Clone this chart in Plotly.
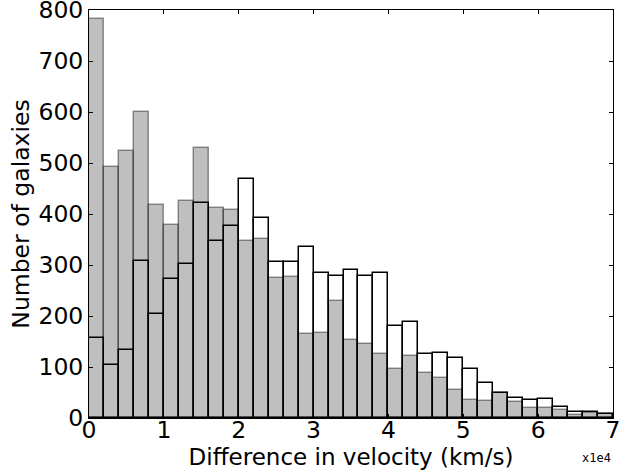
import numpy as np
import plotly.graph_objects as go

# Histogram bins (km/s), width 2000 km/s from 0 to 70000
bin_edges_kms = np.arange(0, 70001, 2000)
bin_centers = (bin_edges_kms[:-1] + bin_edges_kms[1:]) / 2 / 1e4  # in units of 1e4 km/s
bin_width = 2000 / 1e4

gray_counts = [783, 492, 524, 600, 417, 379, 426, 530, 412, 408, 347, 351, 274, 277,
               164, 166, 229, 152, 146, 126, 97, 121, 88, 79, 54, 36, 34, 49, 31,
               19, 19, 16, 6, 10, 7]
outline_counts = [157, 103, 133, 308, 204, 273, 302, 422, 347, 377, 469, 392, 306, 305,
                  336, 285, 279, 290, 279, 285, 181, 188, 126, 128, 117, 96, 68, 50, 39,
                  36, 38, 22, 12, 12, 8]

x_ticks = [0, 1, 2, 3, 4, 5, 6, 7]
y_ticks = [0, 100, 200, 300, 400, 500, 600, 700, 800]

FONT = "DejaVu Sans"

fig = go.Figure()
fig.add_trace(go.Bar(
    x=bin_centers, y=gray_counts, width=bin_width,
    marker=dict(color="rgba(128,128,128,0.5)",
                line=dict(color="rgba(0,0,0,0.4)", width=1.5)),
    showlegend=False,
))
fig.add_trace(go.Bar(
    x=bin_centers, y=outline_counts, width=bin_width,
    marker=dict(color="rgba(0,0,0,0)",
                line=dict(color="black", width=1.5)),
    showlegend=False,
))

axis_common = dict(
    showline=True, linecolor="black", linewidth=1, mirror="allticks",
    ticks="inside", ticklen=4, tickcolor="black", tickwidth=1,
    showgrid=False, zeroline=False, ticklabeloverflow="allow", automargin=False,
    tickfont=dict(family=FONT, size=23.5, color="black"),
)

fig.update_layout(
    width=632, height=471,
    margin=dict(l=89, r=19, t=10, b=53),
    paper_bgcolor="white", plot_bgcolor="white",
    barmode="overlay", bargap=0,
    font=dict(family=FONT, color="black"),
    xaxis=dict(range=[0, 7], tickvals=x_ticks, ticktext=[str(t) for t in x_ticks],
               title=dict(text="Difference in velocity (km/s)",
                          font=dict(family=FONT, size=23), standoff=5),
               ticklabelstandoff=-9,
               **axis_common),
    yaxis=dict(range=[0, 800], tickvals=y_ticks, ticktext=[str(t) for t in y_ticks],
               title=dict(text="Number of galaxies",
                          font=dict(family=FONT, size=23.5), standoff=2),
               ticklabelstandoff=0,
               **axis_common),
    annotations=[dict(text="x1e4", xref="paper", yref="paper", x=1.0, y=-0.075,
                      xanchor="right", yanchor="top", showarrow=False,
                      font=dict(family="DejaVu Sans Mono", size=12, color="black"))],
)

fig.write_html("out.html", config={"displayModeBar": False},
               post_script="document.body.style.margin='0';")
